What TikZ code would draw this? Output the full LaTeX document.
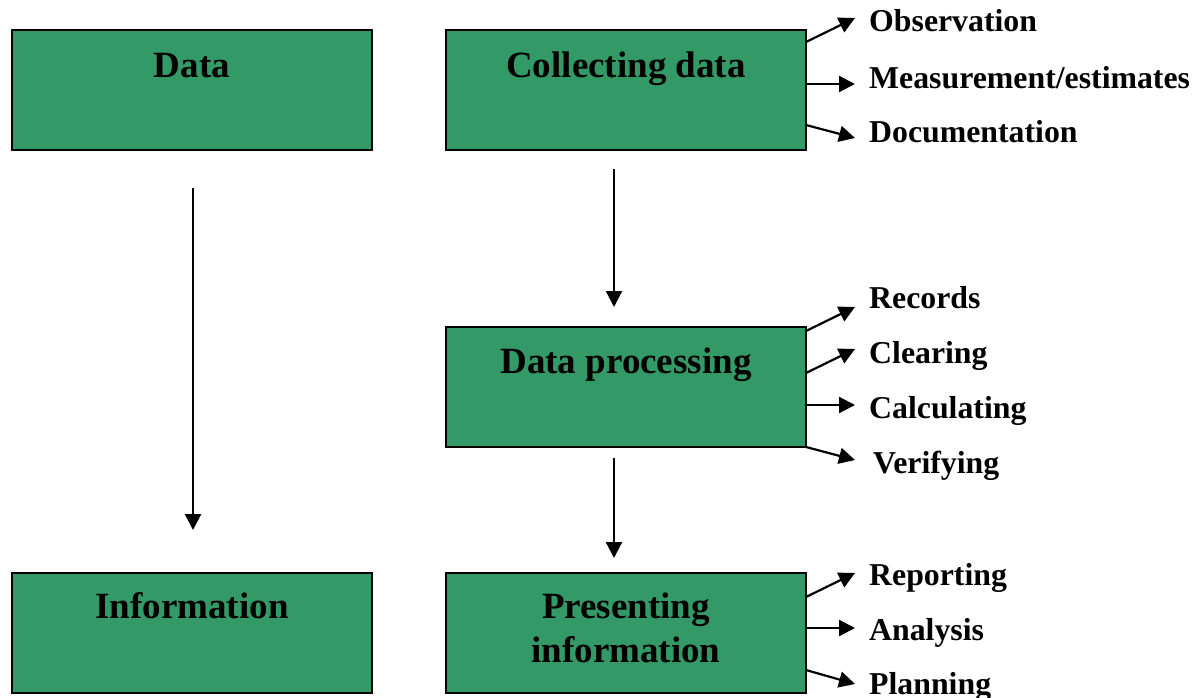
\documentclass[tikz,border=0pt]{standalone}
\usepackage{fontspec}
\setmainfont{Liberation Serif}
\usetikzlibrary{arrows.meta}
\definecolor{boxgreen}{RGB}{51,153,102}
\begin{document}
\begin{tikzpicture}[x=1pt,y=-1pt,
  box/.style={draw=black, line width=2pt, fill=boxgreen, minimum width=360pt, minimum height=120pt, inner sep=0pt, outer sep=0pt, anchor=north west},
  title/.style={font=\fontsize{37}{44}\selectfont\bfseries, anchor=base, inner sep=0pt},
  lab/.style={font=\fontsize{31.8}{36}\selectfont\bfseries, anchor=base west, inner sep=0pt},
  arr/.style={line width=2.2pt, -{Triangle[length=16pt,width=16pt]}}
]
\useasboundingbox (0,0) rectangle (1200,697);

% boxes
\node[box] (data) at (12,30) {};
\node[box] (cd) at (446,30) {};
\node[box] (dp) at (446,327) {};
\node[box] (info) at (12,573) {};
\node[box] (pi) at (446,573) {};

% titles
\node[title] (tdata) at (192,77) {Data};
\node[title] (tcd) at (626,77) {Collecting data};
\node[title] (tdp) at (626,373) {Data processing};
\node[title] (tinfo) at (192,618) {Information};
\node[title] (tpi1) at (626,618) {Presenting};
\node[title] (tpi2) at (626,662) {information};

% vertical arrows
\coordinate (a1s) at (193,188); \coordinate (a1e) at (193,530);
\coordinate (a2s) at (614,169); \coordinate (a2e) at (614,307);
\coordinate (a3s) at (614,458); \coordinate (a3e) at (614,558);
\draw[arr] (a1s) -- (a1e);
\draw[arr] (a2s) -- (a2e);
\draw[arr] (a3s) -- (a3e);

% side labels
\node[lab] (obs) at (869,31) {Observation};
\node[lab] (mea) at (869,88) {Measurement/estimates};
\node[lab] (doc) at (869,142) {Documentation};
\node[lab] (rec) at (869,308) {Records};
\node[lab] (cle) at (869,363) {Clearing};
\node[lab] (cal) at (869,418) {Calculating};
\node[lab] (ver) at (873,473) {Verifying};
\node[lab] (rep) at (869,585) {Reporting};
\node[lab] (ana) at (869,640) {Analysis};
\node[lab] (pla) at (869,694) {Planning};

% side arrows
\coordinate (s1) at (806,42);  \coordinate (e1) at (855,18);
\coordinate (s2) at (806,84);  \coordinate (e2) at (855,84);
\coordinate (s3) at (806,125); \coordinate (e3) at (855,138);
\coordinate (s4) at (806,331); \coordinate (e4) at (855,307);
\coordinate (s5) at (806,373); \coordinate (e5) at (855,349);
\coordinate (s6) at (806,405); \coordinate (e6) at (855,405);
\coordinate (s7) at (806,447); \coordinate (e7) at (855,460);
\coordinate (s8) at (806,597); \coordinate (e8) at (855,573);
\coordinate (s9) at (806,628); \coordinate (e9) at (855,628);
\coordinate (s10) at (806,670); \coordinate (e10) at (855,684);
\foreach \i in {1,...,10} {\draw[arr] (s\i) -- (e\i);}
\end{tikzpicture}
\end{document}
